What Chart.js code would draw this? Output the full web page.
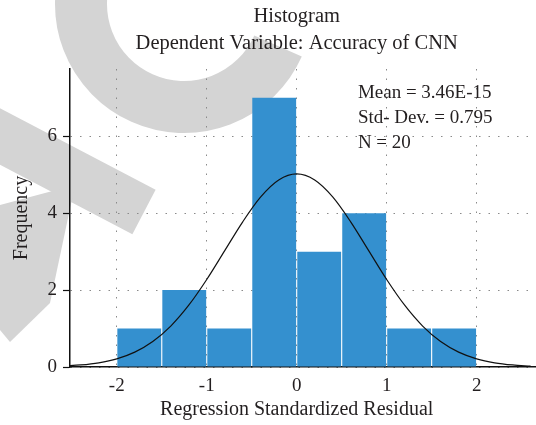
<!DOCTYPE html>
<html>
<head>
<meta charset="utf-8">
<script src="https://cdn.jsdelivr.net/npm/chart.js@4"></script>
<style>
  html, body { margin: 0; padding: 0; background: #fff; }
  #wrap { width: 536px; height: 425px; }
</style>
</head>
<body>
<div id="wrap"><canvas id="chart" width="536" height="425"></canvas></div>
<script>
const binCenters = [-1.75, -1.25, -0.75, -0.25, 0.25, 0.75, 1.25, 1.75];
const counts = [1, 2, 1, 7, 3, 4, 1, 1];

// normal curve
const curveX = [-2.6, -2.4, -2.2, -2.0, -1.8, -1.6, -1.4, -1.2, -1.0, -0.8, -0.6, -0.4, -0.2, 0,
  0.2, 0.4, 0.6, 0.8, 1.0, 1.2, 1.4, 1.6, 1.8, 2.0, 2.2, 2.4, 2.6];
const curveY = [0.024, 0.053, 0.109, 0.212, 0.387, 0.663, 1.065, 1.607, 2.276, 3.026, 3.776, 4.423, 4.863, 5.02,
  4.863, 4.423, 3.776, 3.026, 2.276, 1.607, 1.065, 0.663, 0.387, 0.212, 0.109, 0.053, 0.024];

const xTicks = [-2, -1, 0, 1, 2];
const yTicks = [0, 2, 4, 6];
const titleLines = ["Histogram", "Dependent Variable: Accuracy of CNN"];
const xTitle = "Regression Standardized Residual";
const statsLines = ["Mean = 3.46E-15", "Std- Dev. = 0.795", "N = 20"];

const FONT = "'Liberation Serif', 'Times New Roman', serif";
const TEXT = "#231f20";
const BLUE = "#3490cf";

const watermark = {
  id: "watermark",
  beforeDraw(chart) {
    const ctx = chart.ctx;
    ctx.save();
    ctx.fillStyle = "#fff";
    ctx.fillRect(0, 0, chart.width, chart.height);
    ctx.strokeStyle = "#d4d4d4";
    ctx.fillStyle = "#d4d4d4";
    ctx.lineCap = "butt";
    ctx.lineWidth = 52;
    ctx.beginPath();
    ctx.arc(184, 4, 103, 0.42, Math.PI * 1.5);
    ctx.stroke();
    ctx.lineWidth = 50;
    ctx.beginPath();
    ctx.moveTo(-60, 105);
    ctx.lineTo(144, 212);
    ctx.stroke();
    ctx.beginPath();
    ctx.moveTo(0, 205);
    ctx.lineTo(75, 185);
    ctx.lineTo(50, 303);
    ctx.lineTo(10, 342);
    ctx.lineTo(0, 330);
    ctx.closePath();
    ctx.fill();
    ctx.restore();
  },
};

// titles are centred on the x = 0 line, as in the original figure
const texts = {
  id: "texts",
  afterDatasetsDraw(chart) {
    const ctx = chart.ctx;
    const sx = chart.scales.x;
    const sy = chart.scales.y;
    const cx = sx.getPixelForValue(0);
    ctx.save();
    ctx.fillStyle = TEXT;
    ctx.textBaseline = "middle";

    ctx.textAlign = "center";
    ctx.font = `20.5px ${FONT}`;
    titleLines.forEach((s, i) => ctx.fillText(s, cx, 17 + i * 27));
    ctx.font = `20px ${FONT}`;
    ctx.fillText(xTitle, cx, sx.bottom - 15);

    ctx.textAlign = "left";
    ctx.font = `19px ${FONT}`;
    const x = sx.getPixelForValue(0.68);
    statsLines.forEach((s, i) => {
      ctx.fillText(s, x, sy.getPixelForValue(7.12 - i * 0.65));
    });
    ctx.restore();
  },
};

new Chart(document.getElementById("chart"), {
  type: "bar",
  data: {
    datasets: [
      {
        type: "line",
        label: "Normal",
        data: curveX.map((x, i) => ({ x, y: curveY[i] })),
        borderColor: "#111",
        borderWidth: 1.2,
        pointRadius: 0,
        fill: false,
        cubicInterpolationMode: "monotone",
        order: 0,
      },
      {
        type: "bar",
        label: "Frequency",
        data: binCenters.map((x, i) => ({ x, y: counts[i] })),
        backgroundColor: BLUE,
        borderWidth: 0,
        barPercentage: 0.975,
        categoryPercentage: 1,
        order: 1,
      },
    ],
  },
  options: {
    responsive: false,
    animation: false,
    events: [],
    layout: { padding: { top: 69, left: 0, right: 0, bottom: 0 } },
    plugins: {
      legend: { display: false },
      tooltip: { enabled: false },
      title: { display: false },
    },
    scales: {
      x: {
        type: "linear",
        min: -2.52,
        max: 2.66,
        offset: false,
        afterFit(s) { s.height = 58; },
        afterBuildTicks(s) { s.ticks = xTicks.map((v) => ({ value: v })); },
        ticks: {
          color: TEXT,
          font: { family: FONT, size: 19 },
          padding: 2,
          maxRotation: 0,
          callback: (v) => String(v),
        },
        grid: {
          offset: false,
          color: "#8a8a8a",
          lineWidth: 1,
          tickLength: 6,
          tickColor: "rgba(0,0,0,0)",
        },
        border: { display: true, color: "#111", width: 1.5, dash: [1.5, 8] },
        title: { display: false },
      },
      y: {
        min: 0,
        max: 7.75,
        afterFit(s) { s.width = 70; },
        afterBuildTicks(s) { s.ticks = yTicks.map((v) => ({ value: v })); },
        ticks: {
          color: TEXT,
          font: { family: FONT, size: 19 },
          padding: 6,
        },
        grid: {
          color: "#8a8a8a",
          lineWidth: 1,
          tickLength: 7,
          tickColor: "#111",
          tickWidth: 1.2,
        },
        border: { display: true, color: "#111", width: 1.5, dash: [1.5, 8] },
        title: {
          display: true,
          text: "Frequency",
          color: TEXT,
          font: { family: FONT, size: 20 },
          padding: { top: 10, bottom: 0 },
        },
      },
    },
  },
  plugins: [watermark, texts],
});
</script>
</body>
</html>
